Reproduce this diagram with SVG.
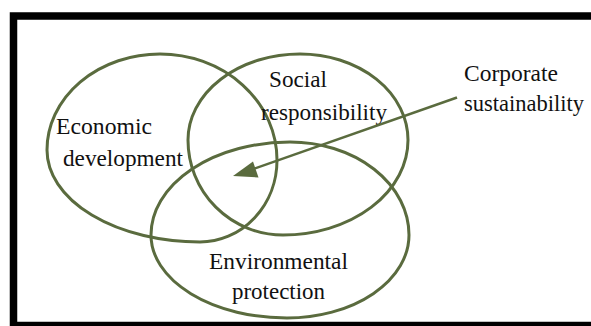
<svg xmlns="http://www.w3.org/2000/svg" width="591" height="326" viewBox="0 0 591 326">
  <style>
    .ring { fill: none; stroke: #5a6b3e; stroke-width: 3; }
    .lbl { font-family: "Liberation Serif", "Times New Roman", serif; font-size: 24px; fill: #111; }
    .link { stroke: #5a6b3e; stroke-width: 2.5; fill: none; }
    .head { fill: #5a6b3e; }
  </style>

  <!-- white sheet with heavy black frame -->
  <rect x="0" y="0" width="591" height="326" fill="#fff"/>
  <rect x="13.5" y="16" width="600" height="309.5" fill="#fff" stroke="#000" stroke-width="7.5"/>

  <!-- overlapping circles of the three pillars -->
  <g id="economic">
    <path class="ring" d="M160,54 A117,106 0 0 1 277,160 A77,82 0 0 1 200,242 A153,92 0 0 1 47,150 A113,96 0 0 1 160,54 Z"/>
    <text class="lbl" x="56" y="134" textLength="96" lengthAdjust="spacingAndGlyphs">Economic</text>
    <text class="lbl" x="63" y="166" textLength="120" lengthAdjust="spacingAndGlyphs">development</text>
  </g>

  <g id="social">
    <path class="ring" d="M300,54 A108,86 0 0 1 408,140 A125,95 0 0 1 283,235 A95,95 0 0 1 188,140 A112,86 0 0 1 300,54 Z"/>
    <text class="lbl" x="269" y="87" textLength="58" lengthAdjust="spacingAndGlyphs">Social</text>
    <text class="lbl" x="261" y="120" textLength="126" lengthAdjust="spacingAndGlyphs">responsibility</text>
  </g>

  <g id="environmental">
    <path class="ring" d="M290,142 A119,93 0 0 1 409,235 A122,83 0 0 1 287,318 A136,83 0 0 1 151,235 A139,93 0 0 1 290,142 Z"/>
    <text class="lbl" x="209" y="269" textLength="139" lengthAdjust="spacingAndGlyphs">Environmental</text>
    <text class="lbl" x="232" y="299" textLength="93" lengthAdjust="spacingAndGlyphs">protection</text>
  </g>

  <g id="corporate">
    <text class="lbl" x="464" y="81" textLength="94" lengthAdjust="spacingAndGlyphs">Corporate</text>
    <text class="lbl" x="464" y="111" textLength="120" lengthAdjust="spacingAndGlyphs">sustainability</text>
  </g>

  <!-- pointer into the shared centre -->
  <g id="connectors">
    <line class="link" x1="457" y1="97.5" x2="252" y2="169.5"/>
    <polygon class="head" points="233,176 253,161.5 258.5,177.5"/>
  </g>
</svg>
